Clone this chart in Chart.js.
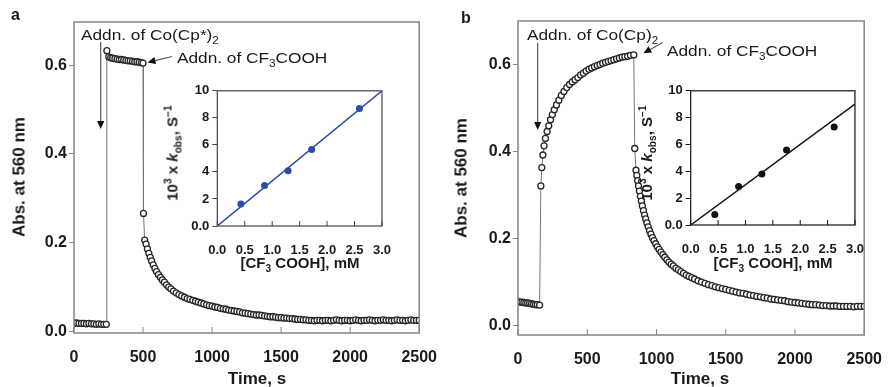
<!DOCTYPE html>
<html>
<head>
<meta charset="utf-8">
<script src="https://cdn.jsdelivr.net/npm/chart.js@4.4.1/dist/chart.umd.min.js"></script>
<style>
  body { margin: 0; background: #fff; font-family: "Liberation Sans", Arial, sans-serif; }
  #wrap { position: relative; width: 889px; height: 387px; overflow: hidden; }
  canvas { position: absolute; }
  .t { position: absolute; white-space: nowrap; color: #1a1a1a; line-height: 1; }
  .note { font-size: 15px; transform: scaleX(1.15); transform-origin: left top; }
  .bold { font-weight: bold; }
  .ctr { transform: translate(-50%, -50%); }
  .rot { transform: translate(-50%, -50%) rotate(-90deg); }
  sub, sup { font-size: 0.68em; line-height: 0; }
  svg { position: absolute; left: 0; top: 0; }
</style>
</head>
<body>
<div id="wrap">
  <canvas id="mainA" width="444" height="387" style="left:0;top:0"></canvas>
  <canvas id="mainB" width="445" height="387" style="left:444px;top:0"></canvas>
  <canvas id="insetA" width="230" height="180" style="left:170px;top:80px"></canvas>
  <canvas id="insetB" width="230" height="180" style="left:643px;top:80px"></canvas>

  <div class="t bold" style="left:11px;top:7px;font-size:16px">a</div>
  <div class="t bold" style="left:461px;top:10px;font-size:16px">b</div>

  <div class="t bold rot" style="left:19px;top:177px;font-size:17px">Abs. at 560 nm</div>
  <div class="t bold rot" style="left:461px;top:178px;font-size:17px">Abs. at 560 nm</div>
  <div class="t bold ctr" style="left:257px;top:378px;font-size:17px">Time, s</div>
  <div class="t bold ctr" style="left:700px;top:378px;font-size:17px">Time, s</div>

  <div class="t bold ctr" style="left:300px;top:262px;font-size:15px">[CF<sub>3</sub> COOH], mM</div>
  <div class="t bold ctr" style="left:773px;top:262px;font-size:15px">[CF<sub>3</sub> COOH], mM</div>
  <div class="t bold rot" style="left:172px;top:153px;font-size:15px">10<sup>3</sup> x <i>k</i><sub>obs</sub>, S<sup>&minus;1</sup></div>
  <div class="t bold rot" style="left:646px;top:153px;font-size:15px">10<sup>3</sup> x <i>k</i><sub>obs</sub>, S<sup>&minus;1</sup></div>

  <div class="t note" style="left:81px;top:27px">Addn. of Co(Cp*)<sub>2</sub></div>
  <div class="t note" style="left:177px;top:50px">Addn. of CF<sub>3</sub>COOH</div>
  <div class="t note" style="left:527px;top:27px">Addn. of Co(Cp)<sub>2</sub></div>
  <div class="t note" style="left:667px;top:43px">Addn. of CF<sub>3</sub>COOH</div>

  <svg id="arrows" width="889" height="387"></svg>
</div>

<script>
// ---- panel a: absorbance trace, Co(Cp*)2 ----
const aTime = [0, 18, 36, 54, 72, 90, 108, 126, 144, 162, 180, 198, 216, 234,
  238, 252, 266, 280, 296, 312, 328, 344, 360, 376, 392, 408, 424, 440, 456, 472, 488, 500,
  503, 512, 522, 532, 542, 552, 562, 574, 586, 598, 612, 626, 640, 655, 670, 686, 702, 720,
  740, 760, 780, 800, 820, 840, 860, 880, 900, 920, 940, 960, 980, 1000,
  1020, 1040, 1060, 1080, 1100, 1120, 1140, 1160, 1180, 1200,
  1220, 1240, 1260, 1280, 1300, 1320, 1340, 1360, 1380, 1400,
  1420, 1440, 1460, 1480, 1500, 1520, 1540, 1560, 1580, 1600,
  1620, 1640, 1660, 1680, 1700, 1720, 1740, 1760, 1780, 1800,
  1820, 1840, 1860, 1880, 1900, 1920, 1940, 1960, 1980, 2000,
  2020, 2040, 2060, 2080, 2100, 2120, 2140, 2160, 2180, 2200,
  2220, 2240, 2260, 2280, 2300, 2320, 2340, 2360, 2380, 2400,
  2420, 2440, 2460, 2480, 2500];
const aAbs = [0.019, 0.019, 0.018, 0.018, 0.018, 0.017, 0.018, 0.017, 0.017, 0.016, 0.017, 0.016, 0.016, 0.016,
  0.633, 0.619, 0.617, 0.616, 0.615, 0.614, 0.613, 0.613, 0.612, 0.611, 0.610, 0.610, 0.609, 0.608, 0.608, 0.607, 0.606, 0.605,
  0.266, 0.206, 0.197, 0.186, 0.176, 0.167, 0.159, 0.150, 0.142, 0.135, 0.128, 0.122, 0.116, 0.111, 0.105, 0.100, 0.096, 0.091,
  0.087, 0.083, 0.080, 0.077, 0.074, 0.072, 0.070, 0.068, 0.066, 0.064, 0.062, 0.060, 0.058, 0.057,
  0.055, 0.054, 0.052, 0.051, 0.050, 0.048, 0.047, 0.046, 0.045, 0.044,
  0.042, 0.041, 0.040, 0.039, 0.038, 0.037, 0.037, 0.036, 0.035, 0.034,
  0.033, 0.033, 0.032, 0.031, 0.031, 0.030, 0.030, 0.029, 0.029, 0.028,
  0.027, 0.027, 0.026, 0.026, 0.025, 0.025, 0.024, 0.025, 0.025, 0.024,
  0.025, 0.025, 0.024, 0.025, 0.026, 0.025, 0.024, 0.025, 0.025, 0.024,
  0.025, 0.026, 0.025, 0.024, 0.025, 0.025, 0.026, 0.025, 0.024, 0.025,
  0.025, 0.026, 0.025, 0.025, 0.024, 0.025, 0.026, 0.025, 0.025, 0.024,
  0.025, 0.026, 0.025, 0.025, 0.025];

// ---- panel b: absorbance trace, Co(Cp)2 ----
const bTime = [0, 14, 28, 42, 56, 70, 84, 98, 112, 126, 140, 156,
  165, 172, 180, 188, 198, 210, 222, 235, 248, 262, 278, 295, 313, 332, 352, 372, 392, 412, 432, 452,
  472, 492, 512, 532, 552, 572, 592, 612, 632, 652, 672, 692, 712, 732, 752, 772, 792, 812, 836,
  843, 852, 858, 864, 870, 877, 884, 891, 898, 906, 914, 922, 931, 940, 950, 960, 971, 982, 994, 1006,
  1019, 1032, 1046, 1060, 1075, 1090, 1106, 1122, 1140, 1158, 1176, 1195, 1215, 1235, 1255, 1275,
  1300, 1325, 1350, 1375, 1400, 1425, 1450, 1475, 1500, 1525, 1550, 1575, 1600, 1625, 1650, 1675,
  1700, 1725, 1750, 1775, 1800, 1825, 1850, 1875, 1900, 1925, 1950, 1975, 2000, 2025, 2050, 2075,
  2100, 2125, 2150, 2175, 2200, 2225, 2250, 2275, 2300, 2325, 2350, 2375, 2400, 2425, 2450, 2475, 2500];
const bAbs = [0.056, 0.055, 0.055, 0.054, 0.053, 0.053, 0.052, 0.051, 0.050, 0.049, 0.049, 0.048,
  0.322, 0.364, 0.393, 0.414, 0.431, 0.447, 0.460, 0.474, 0.486, 0.497, 0.508, 0.519, 0.530, 0.539, 0.548, 0.555, 0.561, 0.566, 0.571, 0.577,
  0.581, 0.586, 0.590, 0.593, 0.596, 0.599, 0.601, 0.604, 0.606, 0.608, 0.610, 0.612, 0.614, 0.616, 0.618, 0.619, 0.620, 0.622, 0.623,
  0.408, 0.358, 0.346, 0.334, 0.322, 0.310, 0.298, 0.287, 0.276, 0.265, 0.255, 0.246, 0.237, 0.228, 0.219, 0.211, 0.203, 0.196, 0.189, 0.182,
  0.176, 0.170, 0.164, 0.158, 0.152, 0.147, 0.142, 0.138, 0.133, 0.129, 0.125, 0.121, 0.117, 0.114, 0.111, 0.108,
  0.104, 0.101, 0.098, 0.095, 0.093, 0.090, 0.088, 0.086, 0.084, 0.082, 0.080, 0.078, 0.076, 0.075, 0.073, 0.071,
  0.070, 0.068, 0.067, 0.065, 0.064, 0.062, 0.061, 0.060, 0.059, 0.058, 0.056, 0.055, 0.054, 0.053, 0.052, 0.051,
  0.050, 0.049, 0.049, 0.048, 0.047, 0.047, 0.046, 0.046, 0.046, 0.045, 0.045, 0.045, 0.045, 0.044, 0.045, 0.045, 0.045];

// ---- insets: k_obs vs [CF3COOH] ----
const aConc = [0.43, 0.86, 1.29, 1.72, 2.59];
const aKobs = [1.63, 2.99, 4.09, 5.65, 8.70];
const aFitConc = [0, 3.0];
const aFitKobs = [0, 10.0];
const bConc = [0.44, 0.875, 1.30, 1.75, 2.62];
const bKobs = [0.78, 2.86, 3.80, 5.58, 7.30];
const bFitConc = [0, 3.0];
const bFitKobs = [0, 9.0];

// ticks
const timeTicks = [0, 500, 1000, 1500, 2000, 2500];
const absTicks = [0.0, 0.2, 0.4, 0.6];
const absLabels = ["0.0", "0.2", "0.4", "0.6"];
const concTicks = [0, 0.5, 1.0, 1.5, 2.0, 2.5, 3.0];
const concLabels = ["0.0", "0.5", "1.0", "1.5", "2.0", "2.5", "3.0"];
const kTicks = [0, 2, 4, 6, 8, 10];
const kLabels = ["0.0", "2", "4", "6", "8", "10"];

const pts = (xs, ys) => xs.map((x, i) => ({ x: x, y: ys[i] }));

// frame box + inward x ticks + white plot background
const framePlugin = {
  id: "frame",
  beforeDraw(chart, args, opts) {
    const a = chart.chartArea, ctx = chart.ctx;
    ctx.save();
    ctx.fillStyle = "#fff";
    ctx.fillRect(a.left, a.top, a.right - a.left, a.bottom - a.top);
    ctx.restore();
  },
  afterDraw(chart, args, opts) {
    const a = chart.chartArea, ctx = chart.ctx, sx = chart.scales.x;
    ctx.save();
    ctx.strokeStyle = opts.color;
    ctx.lineWidth = opts.width;
    ctx.strokeRect(a.left, a.top, a.right - a.left, a.bottom - a.top);
    ctx.beginPath();
    sx.ticks.forEach(t => {
      const px = sx.getPixelForValue(t.value);
      ctx.moveTo(px, a.bottom);
      ctx.lineTo(px, a.bottom - opts.tick);
    });
    ctx.lineWidth = 1;
    ctx.stroke();
    ctx.restore();
  }
};

function mainChart(id, time, abs, yMin, yMax, padRight, padTop, xH) {
  return new Chart(document.getElementById(id), {
    type: "scatter",
    data: {
      datasets: [{
        data: pts(time, abs),
        showLine: true,
        borderColor: "#777",
        borderWidth: 1,
        pointRadius: 3,
        pointBorderWidth: 1.3,
        pointBorderColor: "#262626",
        pointBackgroundColor: "#fff"
      }]
    },
    options: {
      responsive: false,
      animation: false,
      layout: { padding: { left: 0, top: padTop, right: padRight, bottom: 0 } },
      plugins: { legend: { display: false }, tooltip: { enabled: false },
        frame: { color: "#858585", width: 1.5, tick: 6 } },
      scales: {
        x: {
          type: "linear", min: 0, max: 2500,
          afterBuildTicks: s => { s.ticks = timeTicks.map(v => ({ value: v })); },
          afterFit: s => { s.height = xH; },
          grid: { display: false },
          border: { display: false },
          ticks: { padding: 7, color: "#1a1a1a", font: { family: "Liberation Sans", size: 16, weight: "bold" },
            callback: v => String(v) }
        },
        y: {
          type: "linear", min: yMin, max: yMax,
          afterBuildTicks: s => { s.ticks = absTicks.map(v => ({ value: v })); },
          afterFit: s => { s.width = 74; },
          grid: { drawOnChartArea: false, drawTicks: true, tickLength: 5, color: "#858585", lineWidth: 1 },
          border: { display: false },
          ticks: { padding: 2, color: "#1a1a1a", font: { family: "Liberation Sans", size: 16, weight: "bold" },
            callback: (v, i) => absLabels[i] }
        }
      }
    },
    plugins: [framePlugin]
  });
}

function insetChart(id, conc, kobs, fitC, fitK, color, frameColor, padLeft, padTop, padRight, xH) {
  return new Chart(document.getElementById(id), {
    type: "scatter",
    data: {
      datasets: [{
        data: pts(conc, kobs),
        pointRadius: 3.5,
        pointBorderWidth: 0,
        pointBackgroundColor: color
      }, {
        data: pts(fitC, fitK),
        showLine: true,
        borderColor: color,
        borderWidth: 1.5,
        pointRadius: 0
      }]
    },
    options: {
      responsive: false,
      animation: false,
      layout: { padding: { left: 0, top: padTop, right: padRight, bottom: 0 } },
      plugins: { legend: { display: false }, tooltip: { enabled: false },
        frame: { color: frameColor, width: 1.2, tick: 5 } },
      scales: {
        x: {
          type: "linear", min: 0, max: 3,
          afterBuildTicks: s => { s.ticks = concTicks.map(v => ({ value: v })); },
          afterFit: s => { s.height = xH; },
          grid: { display: false },
          border: { display: false },
          ticks: { padding: 9, color: "#1a1a1a", font: { family: "Liberation Sans", size: 13, weight: "bold" },
            callback: (v, i) => concLabels[i] }
        },
        y: {
          type: "linear", min: 0, max: 10,
          afterBuildTicks: s => { s.ticks = kTicks.map(v => ({ value: v })); },
          afterFit: s => { s.width = padLeft; },
          grid: { drawOnChartArea: false, drawTicks: true, tickLength: 5, color: frameColor, lineWidth: 1 },
          border: { display: false },
          ticks: { padding: 3, color: "#1a1a1a", font: { family: "Liberation Sans", size: 13, weight: "bold" },
            callback: (v, i) => kLabels[i] }
        }
      }
    },
    plugins: [framePlugin]
  });
}

mainChart("mainA", aTime, aAbs, -0.0036, 0.6976, 21, 22, 54);
mainChart("mainB", bTime, bAbs, -0.0207, 0.701, 20, 21, 52);
insetChart("insetA", aConc, aKobs, aFitConc, aFitKobs, "#2d4aa6", "#444", 47.3, 9.5, 15.5, 34);
insetChart("insetB", bConc, bKobs, bFitConc, bFitKobs, "#111", "#111", 47.7, 10, 15.7, 35);

// annotation arrows (page pixels)
const arrows = [
  [100.7, 42, 100.7, 129],
  [172, 56.5, 147.5, 62.5],
  [537.7, 43, 537.7, 130],
  [662.7, 42.5, 643.3, 53.3]
];
const svg = document.getElementById("arrows");
let html = "";
arrows.forEach(([x1, y1, x2, y2]) => {
  const dx = x2 - x1, dy = y2 - y1, len = Math.hypot(dx, dy);
  const ux = dx / len, uy = dy / len, hl = 8, hw = 3.6;
  const bx = x2 - ux * hl, by = y2 - uy * hl;
  html += `<line x1="${x1}" y1="${y1}" x2="${bx}" y2="${by}" stroke="#555" stroke-width="1.2"/>`;
  html += `<polygon points="${x2},${y2} ${bx - uy * hw},${by + ux * hw} ${bx + uy * hw},${by - ux * hw}" fill="#111"/>`;
});
svg.innerHTML = html;
</script>
</body>
</html>
